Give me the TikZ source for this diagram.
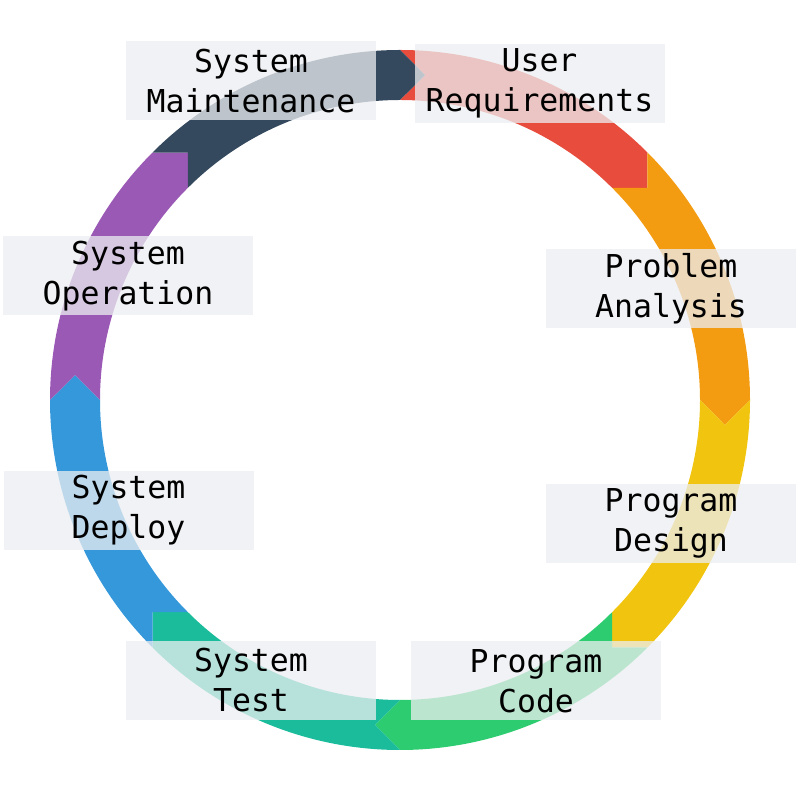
\documentclass[tikz,border=0pt]{standalone}
\usepackage{fontspec}
\newfontfamily\labelfont{DejaVu Sans Mono}
\definecolor{cred}{HTML}{E74C3C}
\definecolor{corange}{HTML}{F39C12}
\definecolor{cyellow}{HTML}{F1C40F}
\definecolor{cgreen}{HTML}{2ECC71}
\definecolor{cteal}{HTML}{1ABC9C}
\definecolor{cblue}{HTML}{3498DB}
\definecolor{cpurple}{HTML}{9B59B6}
\definecolor{cnavy}{HTML}{34495E}
\definecolor{boxgray}{HTML}{ECEEF1}
\newcommand\ringseg[2]{%
  \fill[#1] (#2:350pt) arc[start angle=#2, end angle={#2-45}, radius=350pt]
    -- ({#2-45-4.399}:325.96pt) -- ({#2-45}:300pt)
    arc[start angle={#2-45}, end angle=#2, radius=300pt]
    -- ({#2-4.399}:325.96pt) -- cycle;}
\tikzset{
  lbl/.style={fill=boxgray, fill opacity=0.75, text opacity=1, draw=none,
    minimum width=250pt, minimum height=79pt, inner sep=0pt, align=center,
    font=\labelfont\fontsize{31.5}{40}\selectfont, text=black}
}
\begin{document}
\begin{tikzpicture}[x=1pt,y=1pt]
\useasboundingbox (0,0) rectangle (800,800);
\begin{scope}[shift={(400,400)}]
  \ringseg{cred}{90}
  \ringseg{corange}{45}
  \ringseg{cyellow}{0}
  \ringseg{cgreen}{-45}
  \ringseg{cteal}{-90}
  \ringseg{cblue}{-135}
  \ringseg{cpurple}{180}
  \ringseg{cnavy}{135}
\end{scope}
\node[lbl] (ur) at (539.5,716.5) {User\\Requirements};
\node[lbl] (pa) at (671,511.5) {Problem\\Analysis};
\node[lbl] (pd) at (671,276.5) {Program\\Design};
\node[lbl] (pc) at (536,119) {Program\\Code};
\node[lbl] (st) at (251,119.5) {System\\Test};
\node[lbl] (sd) at (128.5,289.5) {System\\Deploy};
\node[lbl] (so) at (128,524) {System\\Operation};
\node[lbl] (sm) at (251,719) {System\\Maintenance};
\end{tikzpicture}
\end{document}
